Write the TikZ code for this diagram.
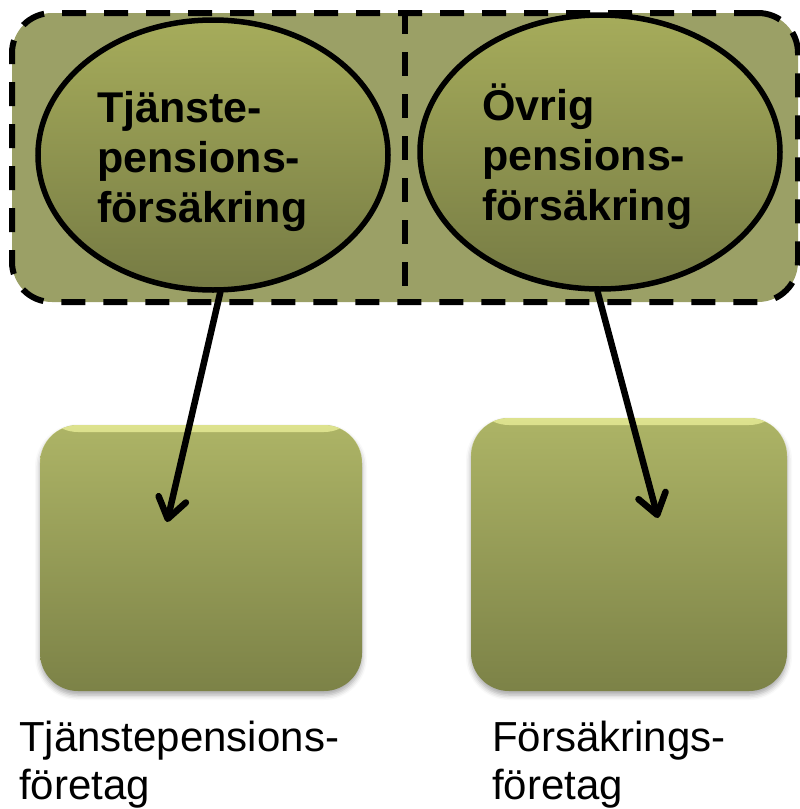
\documentclass[tikz,border=0pt]{standalone}
\usepackage{fontspec}
\setmainfont{Liberation Sans}
\usetikzlibrary{arrows.meta,shapes.geometric,shadows.blur,calc}

\definecolor{groupfill}{HTML}{9BA066}
\definecolor{elltop}{HTML}{A6AC5B}
\definecolor{ellbottom}{HTML}{767B44}
\definecolor{boxtop}{HTML}{ADB466}
\definecolor{boxbottom}{HTML}{7C8247}
\definecolor{boxhl}{HTML}{DDE28E}

\begin{document}
\begin{tikzpicture}[x=1pt,y=-1pt,
  group/.style={draw=black, line width=6pt, dash pattern=on 24pt off 18pt,
    fill=groupfill, rounded corners=40pt, minimum width=786pt,
    minimum height=289pt, inner sep=0pt},
  divider/.style={draw=black, line width=6pt, dash pattern=on 24pt off 18pt},
  oval/.style={ellipse, draw=black, line width=5.5pt, top color=elltop,
    bottom color=ellbottom, inner sep=0pt},
  ovaltext/.style={anchor=west, align=left, inner sep=0pt,
    font=\fontsize{43}{50}\selectfont\bfseries},
  company/.style={rectangle, rounded corners=38pt, top color=boxtop,
    bottom color=boxbottom, inner sep=0pt,
    blur shadow={shadow xshift=0pt, shadow yshift=-4pt,
      shadow blur radius=5pt, shadow opacity=35},
    path picture={\shade[top color=boxhl, bottom color=boxtop]
      (path picture bounding box.north west) rectangle
      ($(path picture bounding box.north east)+(0,7)$);}},
  caption/.style={anchor=west, align=left, inner sep=0pt,
    font=\fontsize{42}{48}\selectfont},
  flow/.style={draw=black, line width=6.5pt, line cap=round,
    -{Straight Barb[length=20pt,width=28pt,round]}}
]
\useasboundingbox (0,0) rectangle (800,809);

% grouping frame with its dashed divider
\node[group] (grp) at (405,157.5) {};
\draw[divider] (grp.north) -- (grp.south);

% the two kinds of insurance
\node[oval, minimum width=350pt, minimum height=270pt] (e1) at (213,155) {};
\node[ovaltext] (t1) at (97,161) {Tjänste-\\pensions-\\försäkring};
\node[oval, minimum width=360pt, minimum height=274pt] (e2) at (600,152) {};
\node[ovaltext] (t2) at (482,157) {Övrig\\pensions-\\försäkring};

% the two kinds of company
\node[company, minimum width=322pt, minimum height=266pt] (b1) at (201,558) {};
\node[company, minimum width=316pt, minimum height=273pt] (b2) at (629,554.5) {};

\node[caption] (c1) at (19,765) {Tjänstepensions-\\företag};
\node[caption] (c2) at (492,765) {Försäkrings-\\företag};

% who provides what
\draw[flow] (e1.-87) -- ($(b1.center)+(-34,-36)$);
\draw[flow] (e2.-91) -- ($(b2.center)+(29,-36.5)$);
\end{tikzpicture}
\end{document}
